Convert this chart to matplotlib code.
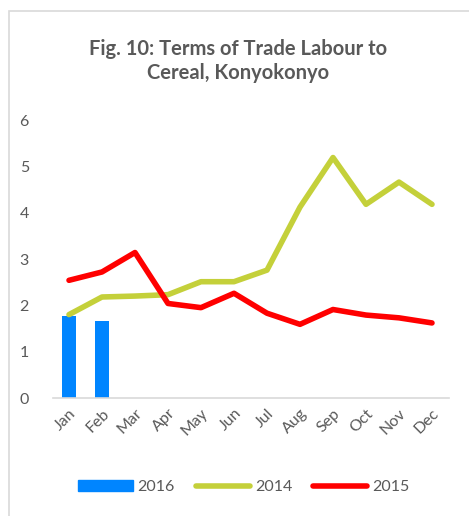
import numpy as np
import matplotlib
matplotlib.use("Agg")
import matplotlib.pyplot as plt
from matplotlib.patches import Rectangle
from matplotlib.lines import Line2D

months = ['Jan', 'Feb', 'Mar', 'Apr', 'May', 'Jun', 'Jul', 'Aug', 'Sep', 'Oct', 'Nov', 'Dec']
tot_2016 = [1.77, 1.66]
tot_2014 = [1.80, 2.18, 2.20, 2.23, 2.51, 2.51, 2.76, 4.12, 5.19, 4.18, 4.66, 4.18]
tot_2015 = [2.54, 2.72, 3.14, 2.04, 1.95, 2.26, 1.83, 1.59, 1.91, 1.79, 1.73, 1.62]

plt.rcParams['font.family'] = ['Lato', 'DejaVu Sans']
text_col = '#595959'

fig = plt.figure(figsize=(4.69, 5.16), dpi=100)
# chart frame (partly outside the picture, as in the source)
fig.patches.append(Rectangle((9 / 469, -0.05), 1.2, 1.05 - 11 / 516, transform=fig.transFigure,
                             fill=False, edgecolor='#d9d9d9', linewidth=1.2))

ax = fig.add_axes([52.5 / 469, 1 - 398 / 516, 396 / 469, 278 / 516])
x = np.arange(len(months))
ax.bar(x[:len(tot_2016)], tot_2016, width=0.4, color='#0085ff', zorder=2)
ax.plot(x, tot_2014, color='#c4d03a', linewidth=4, solid_capstyle='round', solid_joinstyle='round', zorder=3)
ax.plot(x, tot_2015, color='#ff0000', linewidth=4, solid_capstyle='round', solid_joinstyle='round', zorder=4)

ax.set_xlim(-0.5, 11.5)
ax.set_ylim(0, 6)
ax.set_yticks(range(0, 7))
ax.set_xticks(x)
ax.set_xticklabels(months, rotation=45, ha='right', rotation_mode='anchor')
ax.tick_params(axis='both', length=0, colors=text_col, labelsize=11.5)
ax.tick_params(axis='y', pad=17)
ax.tick_params(axis='x', pad=6)
for s in ['top', 'right', 'left']:
    ax.spines[s].set_visible(False)
ax.spines['bottom'].set_color('#d9d9d9')
ax.spines['bottom'].set_linewidth(1.2)

fig.text(0.508, 1 - 61 / 516, 'Fig. 10: Terms of Trade Labour to\nCereal, Konyokonyo', ha='center', va='center',
         fontsize=14.5, fontweight='bold', color=text_col, linespacing=1.2)

handles = [Rectangle((0, 0), 1, 1, color='#0085ff'),
           Line2D([], [], color='#c4d03a', linewidth=4, solid_capstyle='round'),
           Line2D([], [], color='#ff0000', linewidth=4, solid_capstyle='round')]
fig.legend(handles, ['2016', '2014', '2015'], loc='center', bbox_to_anchor=(0.52, 1 - 487 / 516),
           ncol=3, frameon=False, fontsize=11.5, labelcolor=text_col, handlelength=3.4,
           handletextpad=0.3, columnspacing=1.3)

fig.savefig('out.png', dpi=100)
